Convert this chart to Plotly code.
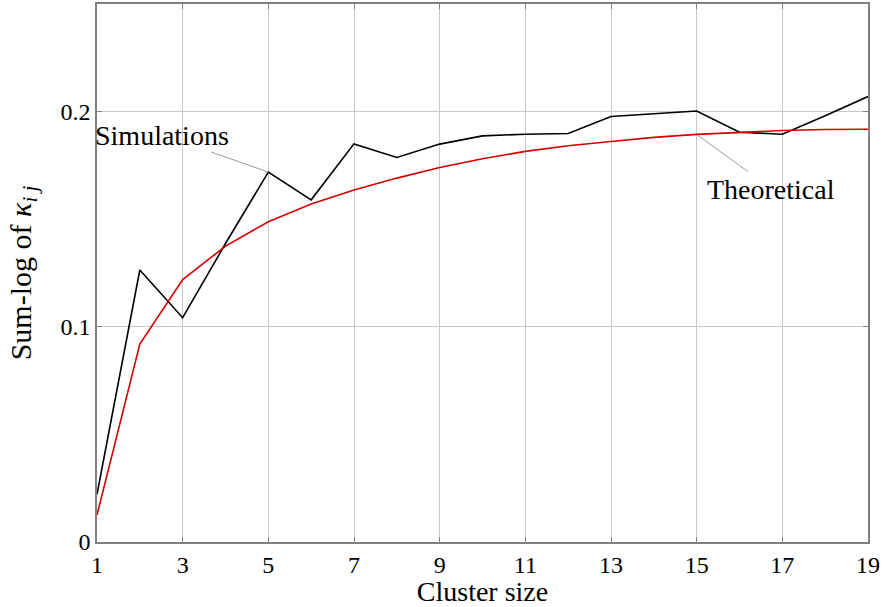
import plotly.graph_objects as go

cluster_size = list(range(1, 20))
simulations = [0.0222, 0.1264, 0.1042, 0.1387, 0.1719, 0.1590, 0.1850, 0.1787, 0.1849,
               0.1887, 0.1895, 0.1898, 0.1977, 0.1989, 0.2003, 0.1904, 0.1895, 0.1981, 0.2070]
theoretical = [0.0125, 0.0920, 0.1219, 0.1375, 0.1488, 0.1571, 0.1636, 0.1691, 0.1740,
               0.1781, 0.1815, 0.1841, 0.1861, 0.1880, 0.1894, 0.1904, 0.1912, 0.1917, 0.1918]
x_ticks = [1, 3, 5, 7, 9, 11, 13, 15, 17, 19]
y_ticks = [0, 0.1, 0.2]
y_tick_text = ["0", "0.1", "0.2"]

FONT = "Liberation Serif, DejaVu Serif, serif"

fig = go.Figure()
fig.add_trace(go.Scatter(x=cluster_size, y=simulations, mode="lines",
                         line=dict(color="black", width=1.6), name="Simulations"))
fig.add_trace(go.Scatter(x=cluster_size, y=theoretical, mode="lines",
                         line=dict(color="#d40000", width=1.6), name="Theoretical"))

# leader lines (anchored at data points, offsets in pixels)
fig.add_shape(type="line", xref="x", yref="y", xsizemode="pixel", ysizemode="pixel",
              xanchor=cluster_size[4], yanchor=simulations[4],
              x0=-57, y0=20, x1=0, y1=0, line=dict(color="#808080", width=0.8))
fig.add_shape(type="line", xref="x", yref="y", xsizemode="pixel", ysizemode="pixel",
              xanchor=cluster_size[14], yanchor=theoretical[14],
              x0=0, y0=0, x1=51, y1=-37, line=dict(color="#808080", width=0.8))
# labels
fig.add_annotation(x=cluster_size[4], y=simulations[4], xref="x", yref="y", text="Simulations",
                   showarrow=False, xanchor="right", yanchor="middle", xshift=-37, yshift=37,
                   font=dict(family=FONT, size=28, color="black"))
fig.add_annotation(x=cluster_size[14], y=theoretical[14], xref="x", yref="y", text="Theoretical",
                   showarrow=False, xanchor="left", yanchor="middle", xshift=8, yshift=-55,
                   font=dict(family=FONT, size=28, color="black"))

fig.update_layout(
    width=882, height=607,
    margin=dict(l=97, r=13, t=2, b=65),
    plot_bgcolor="white", paper_bgcolor="white",
    showlegend=False,
    font=dict(family=FONT, size=24, color="black"),
)
fig.update_xaxes(range=[1, 19], tickvals=x_ticks, showgrid=True, gridcolor="#c8c8c8",
                 gridwidth=1, showline=True, linecolor="#808080", linewidth=1.5, mirror="ticks",
                 ticks="inside", ticklen=5, tickcolor="#808080", zeroline=False,
                 title=dict(text="Cluster size", standoff=0, font=dict(family=FONT, size=28)),
                 tickfont=dict(family=FONT, size=24))
fig.update_yaxes(range=[0, 0.25], tickvals=y_ticks, ticktext=y_tick_text, showgrid=True,
                 gridcolor="#c8c8c8", gridwidth=1, showline=True, linecolor="#808080",
                 linewidth=1.5, mirror="ticks", ticks="inside", ticklen=5, tickcolor="#808080",
                 zeroline=False,
                 title=dict(text="Sum-log of <i>κ<sub>i j</sub></i>", standoff=20,
                            font=dict(family=FONT, size=30)),
                 tickfont=dict(family=FONT, size=24))

fig.write_html("out.html", config={"displayModeBar": False},
               post_script="document.body.style.margin='0';document.body.style.padding='0';")
